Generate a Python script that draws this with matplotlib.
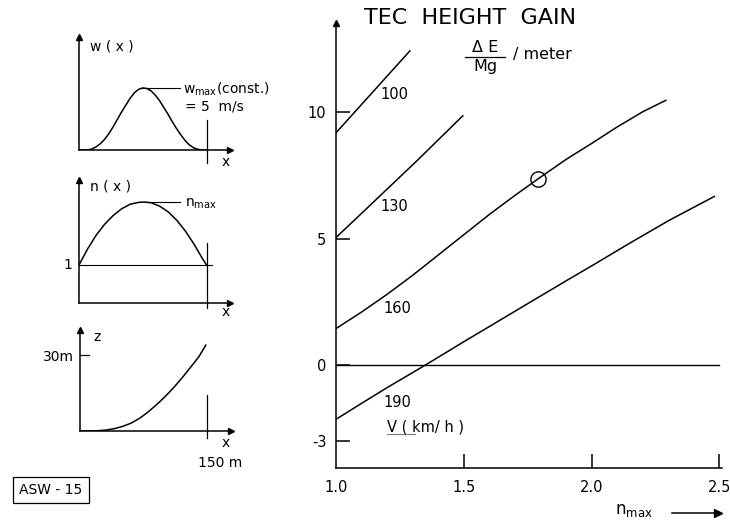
import numpy as np
import matplotlib.pyplot as plt
from matplotlib.lines import Line2D

plt.rcParams['font.family'] = ['DejaVu Sans']
plt.rcParams['axes.unicode_minus'] = False

W, H = 730, 524

# main chart: TEC height gain per meter vs n_max, one curve per speed
n_100 = [1.0, 1.145, 1.289]
e_100 = [9.17, 10.79, 12.4]
n_130 = [1.0, 1.105, 1.32, 1.496]
e_130 = [5.04, 6.04, 8.1, 9.84]
n_160 = [1.0, 1.1, 1.2, 1.3, 1.4, 1.5, 1.6, 1.7, 1.79, 1.9, 2.0, 2.1, 2.2, 2.29]
e_160 = [1.45, 2.1, 2.8, 3.55, 4.35, 5.15, 5.95, 6.7, 7.35, 8.12, 8.75, 9.4, 10.0, 10.45]
n_190 = [1.0, 1.1, 1.2, 1.348, 1.5, 1.64, 1.758, 1.9, 2.0, 2.148, 2.3, 2.48]
e_190 = [-2.13, -1.5, -0.88, 0.0, 0.93, 1.77, 2.48, 3.33, 3.92, 4.81, 5.7, 6.66]
speeds = ['100', '130', '160', '190']
label_pos = [(1.227, 10.69), (1.23, 6.27), (1.242, 2.25), (1.242, -1.46)]
design_point = (1.79, 7.35)
xticks = [1.0, 1.5, 2.0, 2.5]
xticklabels = ['1.0', '1.5', '2.0', '2.5']
yticks = [-3, 0, 5, 10]

# small sketches (x in m)
x_w = [0, 10, 15, 20, 25, 30, 35, 40, 45, 50, 55, 60, 65, 70, 75, 80, 85, 90, 95,
       100, 105, 110, 115, 120, 125, 130, 135, 140, 145, 150]
w_x = [0, 0, 0.08, 0.25, 0.5, 0.85, 1.3, 1.85, 2.45, 3.05, 3.6, 4.15, 4.6, 4.88, 5.0,
       4.95, 4.75, 4.4, 3.95, 3.4, 2.85, 2.25, 1.7, 1.2, 0.75, 0.4, 0.17, 0.05, 0, 0]
x_n = [0, 10, 20, 30, 40, 50, 60, 70, 77, 85, 95, 105, 115, 125, 135, 145, 150]
n_x = [1.0, 1.42, 1.78, 2.07, 2.3, 2.48, 2.6, 2.65, 2.66, 2.64, 2.55, 2.4, 2.18, 1.9,
       1.56, 1.18, 1.0]
x_z = [0, 20, 30, 40, 50, 60, 70, 80, 90, 100, 110, 120, 130, 140, 148]
z_x = [0, 0.1, 0.35, 0.9, 1.8, 3.1, 5.0, 7.5, 10.4, 13.6, 17.1, 21.0, 25.2, 29.5, 34]


def fx(px):
    return px / W


def fy(py):
    return 1 - py / H


def box(l, t, r, b):
    return [fx(l), fy(b), fx(r) - fx(l), fy(t) - fy(b)]


fig = plt.figure(figsize=(W / 100, H / 100), dpi=100)
fig.patch.set_facecolor('white')
lw = 1.1

# ---- main chart
ax = fig.add_axes(box(336, 23, 722, 468))
ax.set_xlim(1.0, 2.51)
ax.set_ylim(-4.05, 13.5)
for s in ['top', 'right']:
    ax.spines[s].set_visible(False)
for s in ['left', 'bottom']:
    ax.spines[s].set_linewidth(lw)
ax.plot(0, 1, '^k', ms=5, transform=ax.transAxes, clip_on=False)

for n, e in [(n_100, e_100), (n_130, e_130), (n_160, e_160), (n_190, e_190)]:
    ax.plot(n, e, color='black', lw=lw)
ax.plot([1.0, 2.5], [0, 0], color='black', lw=lw * 0.9)
ax.plot(*design_point, 'o', ms=11, mfc='none', mec='black', mew=1.0)

for s, (xx, yy) in zip(speeds, label_pos):
    ax.text(xx, yy, s, fontsize=10.5, ha='center', va='center')
ax.text(1.2, -2.44, 'V ( km/ h )', fontsize=10.5, ha='left', va='center')
ax.plot([1.2, 1.31], [-2.7, -2.7], color='gray', lw=0.9)

ax.set_xticks(xticks)
ax.set_xticklabels(xticklabels)
ax.set_yticks(yticks)
ax.tick_params(direction='in', length=10, width=lw, labelsize=10.5)
ax.tick_params(axis='x', pad=9)
ax.tick_params(axis='y', pad=7)
ax.xaxis.get_major_ticks()[0].tick1line.set_visible(False)

fig.text(fx(470), fy(18), 'TEC  HEIGHT  GAIN', fontsize=16, ha='center', va='center')
fig.text(fx(485), fy(47), 'Δ E', fontsize=11.5, ha='center', va='center')
fig.text(fx(485), fy(67), 'Mg', fontsize=11.5, ha='center', va='center')
fig.add_artist(Line2D([fx(465), fx(505)], [fy(57), fy(57)], color='black', lw=0.9))
fig.text(fx(513), fy(55), '/ meter', fontsize=11.5, ha='left', va='center')
fig.text(fx(615), fy(510), 'n$_{\\mathregular{max}}$', fontsize=12, ha='left', va='center')
fig.add_artist(Line2D([fx(672), fx(714)], [fy(513), fy(513)], color='black', lw=lw))
fig.add_artist(Line2D([fx(718)], [fy(513)], marker='>', color='black', ms=6))


def sketch(l, t, r, b, xmax, ymax):
    a = fig.add_axes(box(l, t, r, b))
    a.set_xlim(0, xmax)
    a.set_ylim(0, ymax)
    for s in ['top', 'right']:
        a.spines[s].set_visible(False)
    for s in ['left', 'bottom']:
        a.spines[s].set_linewidth(lw)
    a.set_xticks([])
    a.set_yticks([])
    a.plot(0, 1, '^k', ms=5, transform=a.transAxes, clip_on=False)
    a.plot(1, 0, '>k', ms=5, transform=a.transAxes, clip_on=False)
    a.patch.set_alpha(0)
    return a


xmax = (230 - 79) * 150 / 127.5

# w(x)
a1 = sketch(79, 37, 230, 150, xmax, 9.1)
a1.plot(x_w, w_x, color='black', lw=lw)
a1.plot([150, 150], [-1.05, 2.42], color='black', lw=0.9, clip_on=False)
fig.text(fx(90), fy(46), 'w ( x )', fontsize=10, ha='left', va='center')
fig.add_artist(Line2D([fx(140), fx(180)], [fy(88), fy(88)], color='black', lw=0.8))
fig.text(fx(183), fy(89), 'w$_{\\mathregular{max}}$(const.)', fontsize=10, ha='left', va='center')
fig.text(fx(185), fy(107), '= 5  m/s', fontsize=10, ha='left', va='center')
fig.text(fx(226), fy(162), 'x', fontsize=10, ha='center', va='center')

# n(x)
a2 = sketch(79, 180, 230, 303, xmax, 3.24)
a2.plot(x_n, n_x, color='black', lw=lw)
a2.plot([0, 157], [1, 1], color='black', lw=0.8)
a2.plot([150, 150], [-0.13, 1.58], color='black', lw=0.9, clip_on=False)
fig.text(fx(90), fy(186), 'n ( x )', fontsize=10, ha='left', va='center')
fig.add_artist(Line2D([fx(145), fx(180)], [fy(202), fy(202)], color='black', lw=0.8))
fig.text(fx(185), fy(204), 'n$_{\\mathregular{max}}$', fontsize=10, ha='left', va='center')
fig.text(fx(72), fy(265), '1', fontsize=10, ha='right', va='center')
fig.text(fx(226), fy(312), 'x', fontsize=10, ha='center', va='center')

# z(x)
a3 = sketch(80, 330, 231, 431, xmax, 40)
a3.plot(x_z, z_x, color='black', lw=lw)
a3.plot([0, 10], [30, 30], color='black', lw=0.9)
a3.plot([150, 150], [-2.8, 14.2], color='black', lw=0.9, clip_on=False)
fig.text(fx(97), fy(337), 'z', fontsize=10, ha='center', va='center')
fig.text(fx(74), fy(357), '30m', fontsize=10, ha='right', va='center')
fig.text(fx(226), fy(443), 'x', fontsize=10, ha='center', va='center')
fig.text(fx(220), fy(463), '150 m', fontsize=10, ha='center', va='center')

fig.text(fx(51), fy(490), 'ASW - 15', fontsize=10, ha='center', va='center',
         bbox=dict(boxstyle='square,pad=0.45', fc='white', ec='black', lw=0.9))

fig.savefig('out.png', dpi=100)
